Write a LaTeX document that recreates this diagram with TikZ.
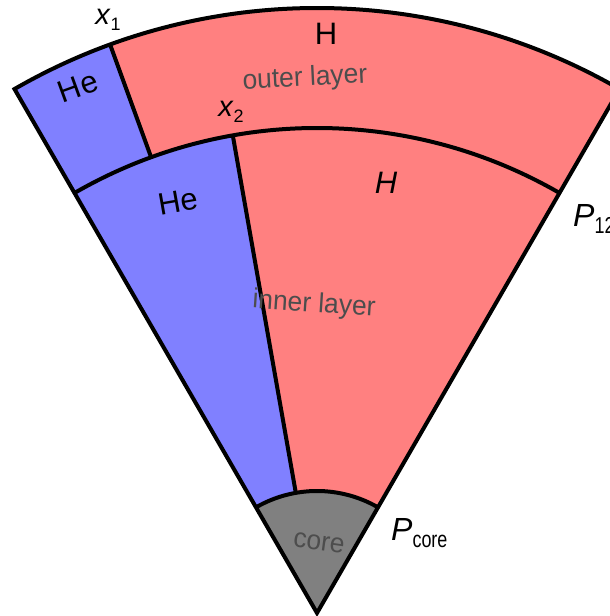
\documentclass[tikz,border=0pt]{standalone}
\usepackage{fontspec}
\usepackage{graphicx}
\setmainfont{Liberation Sans}
\definecolor{heblue}{HTML}{8080FF}
\definecolor{hred}{HTML}{FF8080}
\definecolor{coregray}{HTML}{808080}
\definecolor{labgray}{HTML}{4D4D4D}
\newcommand{\subx}[1]{\raisebox{-0.22em}{\fontsize{18}{20}\selectfont #1}}
\newcommand{\subp}[1]{\raisebox{-0.2em}{\scalebox{0.78}[1]{\fontsize{23}{26}\selectfont #1}}}
\begin{document}
\begin{tikzpicture}[x=1pt,y=1pt,
  edge/.style={line width=4pt,line join=miter,black},
  lab/.style={font=\fontsize{31}{34}\selectfont,inner sep=0pt},
  layerlab/.style={font=\fontsize{27.5}{32}\selectfont,text=labgray,inner sep=0pt,xscale=0.96},
  varlab/.style={font=\fontsize{29}{34}\selectfont,inner sep=0pt},
  plab/.style={font=\fontsize{32}{38}\selectfont,inner sep=0pt}]
\useasboundingbox (0,0) rectangle (610,616);
\clip (0,0) rectangle (610,616);
\begin{scope}[shift={(317,3)}]
  \coordinate (A) at (0,0);
  % fills
  \fill[coregray] (A) -- (60:122) arc[start angle=60,end angle=120,radius=122] -- cycle;
  \fill[heblue] (120:122) -- (120:485) arc[start angle=120,end angle=100,radius=485] -- (100:122) arc[start angle=100,end angle=120,radius=122] -- cycle;
  \fill[hred] (100:122) -- (100:485) arc[start angle=100,end angle=60,radius=485] -- (60:122) arc[start angle=60,end angle=100,radius=122] -- cycle;
  \fill[heblue] (120:485) -- (120:605) arc[start angle=120,end angle=110,radius=605] -- (110:485) arc[start angle=110,end angle=120,radius=485] -- cycle;
  \fill[hred] (110:485) -- (110:605) arc[start angle=110,end angle=60,radius=605] -- (60:485) arc[start angle=60,end angle=110,radius=485] -- cycle;
  % outlines
  \coordinate (L1) at (120:605);
  \coordinate (L2) at (120:485);
  \coordinate (L3) at (120:122);
  \coordinate (X1a) at (110:485);
  \coordinate (X1b) at (110:605);
  \coordinate (X2a) at (100:122);
  \coordinate (X2b) at (100:485);
  \draw[edge] (A) -- (L1) arc[start angle=120,end angle=60,radius=605] -- cycle;
  \draw[edge] (L2) arc[start angle=120,end angle=60,radius=485];
  \draw[edge] (L3) arc[start angle=120,end angle=60,radius=122];
  \draw[edge] (X1a) -- (X1b);
  \draw[edge] (X2a) -- (X2b);
\end{scope}
% labels
\node[varlab] (x1) at (108,596) {\textit{x}\subx{1}};
\node[varlab] (x2) at (231,504) {\textit{x}\subx{2}};
\node[lab,rotate=20] (he1) at (78,529) {He};
\node[lab,rotate=10] (he2) at (178,414) {He};
\node[lab] (h1) at (326,582) {H};
\node[lab] (h2) at (386,433) {\textit{H}};
\node[layerlab,rotate=3] (outer) at (305,537) {outer layer};
\node[layerlab,rotate=-4] (inner) at (314,311) {inner layer};
\node[layerlab,rotate=-8] (core) at (319,73) {core};
\node[plab,anchor=west] (pcore) at (391,83) {\textit{P}\subp{core}};
\node[plab,anchor=west] (p12) at (573,397) {\textit{P}\subp{12}};
\end{tikzpicture}
\end{document}
